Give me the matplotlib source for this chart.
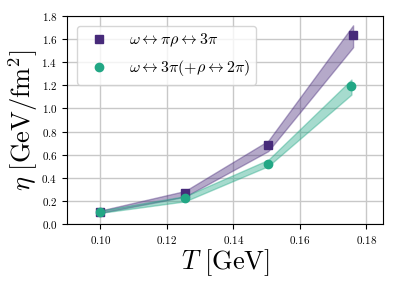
import numpy as np
import matplotlib.pyplot as plt

plt.rcParams['font.family'] = 'serif'
plt.rcParams['font.serif'] = ['cmr10']
plt.rcParams['mathtext.fontset'] = 'cm'
plt.rcParams['axes.formatter.use_mathtext'] = True

T_rho = [0.100, 0.1255, 0.1505, 0.176]
eta_rho = [0.105, 0.265, 0.68, 1.635]
lo_rho = [0.095, 0.235, 0.63, 1.53]
hi_rho = [0.115, 0.285, 0.72, 1.72]

T_3pi = [0.100, 0.1255, 0.1505, 0.1755]
eta_3pi = [0.105, 0.22, 0.52, 1.19]
lo_3pi = [0.095, 0.195, 0.50, 1.12]
hi_3pi = [0.115, 0.24, 0.555, 1.25]

c1 = '#472a7a'
c2 = '#22a785'

fig = plt.figure(figsize=(3.99, 2.87), dpi=100)
ax = fig.add_axes([0.168, 0.22, 0.792, 0.724])

ax.fill_between(T_rho, lo_rho, hi_rho, color=c1, alpha=0.4, lw=1)
ax.fill_between(T_3pi, lo_3pi, hi_3pi, color=c2, alpha=0.4, lw=1)
ax.plot(T_rho, eta_rho, 's', color=c1, ms=6,
        label=r'$\omega \leftrightarrow \pi\rho \leftrightarrow 3\pi$')
ax.plot(T_3pi, eta_3pi, 'o', color=c2, ms=6,
        label=r'$\omega \leftrightarrow 3\pi (+\rho \leftrightarrow 2\pi)$')

ax.set_xlim(0.09, 0.185)
ax.set_ylim(0, 1.8)
ax.set_xticks([0.10, 0.12, 0.14, 0.16, 0.18])
ax.set_yticks(np.arange(0, 1.81, 0.2))
ax.tick_params(labelsize=8)
ax.grid(True, color='#c8c8c8', lw=1)
ax.set_axisbelow(True)
ax.set_xlabel(r'$T\ [\mathrm{GeV}]$', fontsize=19, labelpad=1)
ax.set_ylabel(r'$\eta\ [\mathrm{GeV/fm^2}]$', fontsize=19, labelpad=1)
ax.legend(loc='upper left', fontsize=11.5, handletextpad=0.9,
          borderaxespad=0.6, labelspacing=0.55)

fig.savefig('out.png', dpi=100)
